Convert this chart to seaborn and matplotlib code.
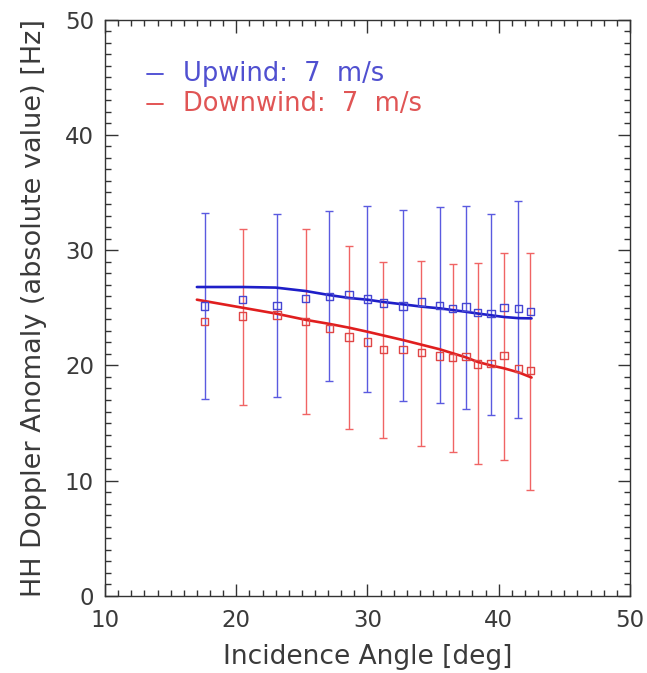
import numpy as np
import pandas as pd
import matplotlib
matplotlib.use("Agg")
import matplotlib.pyplot as plt
import seaborn as sns
from matplotlib.ticker import MultipleLocator

# ---------------- data ----------------
angles = [17.6, 20.5, 23.1, 25.3, 27.1, 28.6, 30.0, 31.2, 32.7,
          34.1, 35.5, 36.5, 37.5, 38.4, 39.4, 40.4, 41.5, 42.4]
upwind_mean = [25.15, 25.73, 25.18, 25.82, 26.0, 26.17, 25.76, 25.41, 25.15,
               25.5, 25.21, 24.95, 25.07, 24.57, 24.52, 25.04, 24.95, 24.66]
downwind_mean = [23.79, 24.28, 24.37, 23.83, 23.21, 22.46, 22.03, 21.39, 21.39,
                 21.13, 20.82, 20.7, 20.76, 20.12, 20.18, 20.84, 19.75, 19.54]

# error bars (drawn alternately for the two series)
up_bar_angle = [17.6, 23.1, 27.1, 30.0, 32.7, 35.5, 37.5, 39.4, 41.5]
up_bar_top = [33.25, 33.16, 33.36, 33.82, 33.48, 33.71, 33.82, 33.16, 34.29]
up_bar_bottom = [17.09, 17.23, 18.67, 17.69, 16.91, 16.71, 16.19, 15.67, 15.44]

down_bar_angle = [20.5, 25.3, 28.6, 31.2, 34.1, 36.5, 38.4, 40.4, 42.4]
down_bar_top = [31.83, 31.83, 30.38, 28.94, 29.05, 28.77, 28.88, 29.78, 29.78]
down_bar_bottom = [16.59, 15.78, 14.46, 13.73, 13.04, 12.49, 11.42, 11.8, 9.19]

# fitted curves
fit_angle = [17.0, 20.5, 23.0, 25.3, 27.1, 28.6, 30.0, 31.2, 32.7,
             34.1, 35.5, 36.5, 37.5, 38.4, 39.4, 40.4, 41.5, 42.5]
up_fit = [26.8, 26.8, 26.75, 26.45, 26.1, 25.85, 25.7, 25.5, 25.3,
          25.1, 24.95, 24.8, 24.65, 24.5, 24.35, 24.2, 24.1, 24.08]
down_fit = [25.7, 25.0, 24.5, 23.95, 23.6, 23.27, 22.92, 22.6, 22.2,
            21.8, 21.4, 21.05, 20.7, 20.3, 20.0, 19.75, 19.4, 18.95]

legend_labels = ["Upwind:  7  m/s", "Downwind:  7  m/s"]

# ---------------- style ----------------
sns.set_style("ticks")
plt.rcParams['font.family'] = ['DejaVu Sans']

BLUE_LINE = "#1e1ec8"
BLUE_PT = "#4646d2"
BLUE_BAR = "#5a5ae0"
RED_LINE = "#e01e1e"
RED_PT = "#e04646"
RED_BAR = "#f06464"
TXT = "#3a3a3a"

fig = plt.figure(figsize=(6.47, 6.73), dpi=100)
ax = fig.add_axes([0.1623, 0.1144, 0.8114, 0.8566])

# error bars
up_mid = [(t + b) / 2 for t, b in zip(up_bar_top, up_bar_bottom)]
up_half = [(t - b) / 2 for t, b in zip(up_bar_top, up_bar_bottom)]
dn_mid = [(t + b) / 2 for t, b in zip(down_bar_top, down_bar_bottom)]
dn_half = [(t - b) / 2 for t, b in zip(down_bar_top, down_bar_bottom)]
ax.errorbar(up_bar_angle, up_mid, yerr=up_half, fmt='none', ecolor=BLUE_BAR,
            elinewidth=1.0, capsize=3, capthick=1.0, zorder=2)
ax.errorbar(down_bar_angle, dn_mid, yerr=dn_half, fmt='none', ecolor=RED_BAR,
            elinewidth=1.0, capsize=3, capthick=1.0, zorder=2)

# fitted lines
fit_df = pd.DataFrame({"angle": fit_angle, "up": up_fit, "down": down_fit})
sns.lineplot(data=fit_df, x="angle", y="up", color=BLUE_LINE, lw=1.9, ax=ax, zorder=3)
sns.lineplot(data=fit_df, x="angle", y="down", color=RED_LINE, lw=1.9, ax=ax, zorder=3)

# markers
pt_df = pd.DataFrame({"angle": angles, "up": upwind_mean, "down": downwind_mean})
sns.scatterplot(data=pt_df, x="angle", y="up", marker="s", s=28,
                facecolors="none", edgecolor=BLUE_PT, linewidth=1.0, ax=ax, zorder=4)
sns.scatterplot(data=pt_df, x="angle", y="down", marker="s", s=28,
                facecolors="none", edgecolor=RED_PT, linewidth=1.0, ax=ax, zorder=4)

# axes
ax.set_xlim(10, 50)
ax.set_ylim(0, 50)
ax.xaxis.set_major_locator(MultipleLocator(10))
ax.xaxis.set_minor_locator(MultipleLocator(1))
ax.yaxis.set_major_locator(MultipleLocator(10))
ax.yaxis.set_minor_locator(MultipleLocator(1))
ax.tick_params(which='both', direction='in', top=True, right=True,
               color='#333333', width=1.0)
ax.tick_params(which='major', length=9, labelsize=16.5, labelcolor=TXT)
ax.tick_params(axis='x', which='major', pad=9)
ax.tick_params(axis='y', which='major', pad=8)
ax.tick_params(which='minor', length=4.5)
for sp in ax.spines.values():
    sp.set_color('#333333')
    sp.set_linewidth(1.0)

ax.set_xlabel("Incidence Angle [deg]", fontsize=19, color=TXT, labelpad=9)
ax.set_ylabel("HH Doppler Anomaly (absolute value) [Hz]", fontsize=19.5,
              color=TXT, labelpad=13)

# legend, IDL style: short line then coloured text
for yfrac, lab, lc, tc in [(0.906, legend_labels[0], BLUE_PT, "#5050d0"),
                           (0.854, legend_labels[1], RED_PT, "#e05555")]:
    ax.plot([0.080, 0.111], [yfrac, yfrac], transform=ax.transAxes,
            color=lc, lw=1.3, clip_on=False)
    ax.text(0.149, yfrac, lab, transform=ax.transAxes,
            color=tc, fontsize=18.5, va='center', ha='left')

fig.savefig("out.png", dpi=100)
